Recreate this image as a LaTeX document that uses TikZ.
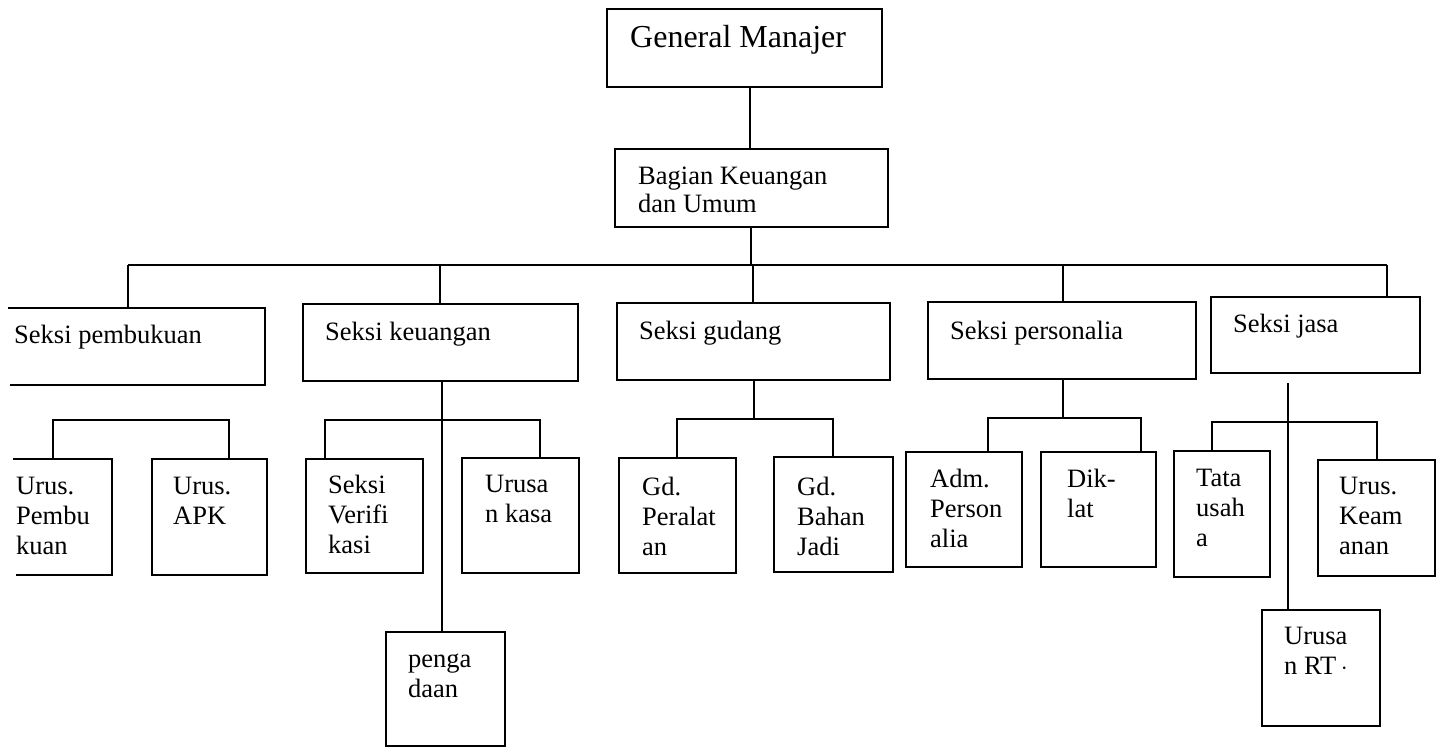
\documentclass[tikz,border=0pt]{standalone}
\usepackage{fontspec}
\setmainfont{Liberation Serif}
\begin{document}
\begin{tikzpicture}[x=1pt,y=-1pt,
  bx/.style={draw,line width=1.5pt,inner sep=0pt,outer sep=0pt,anchor=north west},
  openbx/.style={inner sep=0pt,outer sep=0pt,anchor=north west},
  lbl/.style={anchor=north west,align=left,inner sep=0pt,font=\fontsize{26.5}{30}\selectfont},
  conn/.style={line width=1.1pt},
  side/.style={line width=1.5pt}]
\useasboundingbox (0,0) rectangle (1436,747);
% level 1
\node[bx,minimum width=275pt,minimum height=78pt] (gm) at (607,9) {};
\node[lbl,font=\fontsize{32}{36}\selectfont] (tgm) at (630,25) {General Manajer};
\node[bx,minimum width=273pt,minimum height=78pt] (bag) at (615,149) {};
\node[lbl,font=\fontsize{26.5}{28}\selectfont] (tbag) at (638,167) {Bagian Keuangan\\dan Umum};
% level 2
\node[openbx,minimum width=257pt,minimum height=77pt] (pemb) at (8,308) {};
\draw[side] (pemb.north west) -- (pemb.north east) -- (pemb.south east) -- ([xshift=2pt]pemb.south west);
\node[lbl] (tpemb) at (14,325) {Seksi pembukuan};
\node[bx,minimum width=275pt,minimum height=77pt] (keu) at (303,304) {};
\node[lbl] (tkeu) at (325,322) {Seksi keuangan};
\node[bx,minimum width=273pt,minimum height=77pt] (gud) at (617,303) {};
\node[lbl] (tgud) at (639,321) {Seksi gudang};
\node[bx,minimum width=268pt,minimum height=77pt] (pers) at (928,302) {};
\node[lbl] (tpers) at (950,321) {Seksi personalia};
\node[bx,minimum width=209pt,minimum height=76pt] (jasa) at (1211,297) {};
\node[lbl] (tjasa) at (1233,314) {Seksi jasa};
% level 3
\node[openbx,minimum width=99pt,minimum height=116pt] (upemb) at (13,459) {};
\draw[side] (upemb.north west) -- (upemb.north east) -- (upemb.south east) -- ([xshift=3pt]upemb.south west);
\node[lbl] (tupemb) at (16,477) {Urus.\\Pembu\\kuan};
\node[bx,minimum width=115pt,minimum height=116pt] (apk) at (152,459) {};
\node[lbl] (tapk) at (173,477) {Urus.\\APK};
\node[bx,minimum width=117pt,minimum height=114pt] (ver) at (306,459) {};
\node[lbl] (tver) at (328,475) {Seksi\\Verifi\\kasi};
\node[bx,minimum width=117pt,minimum height=115pt] (kasa) at (462,458) {};
\node[lbl] (tkasa) at (485,475) {Urusa\\n kasa};
\node[bx,minimum width=119pt,minimum height=114pt] (peng) at (386,632) {};
\node[lbl] (tpeng) at (408,654) {penga\\daan};
\node[bx,minimum width=117pt,minimum height=115pt] (gdp) at (619,458) {};
\node[lbl] (tgdp) at (642,477) {Gd.\\Peralat\\an};
\node[bx,minimum width=119pt,minimum height=115pt] (gdb) at (774,457) {};
\node[lbl] (tgdb) at (797,477) {Gd.\\Bahan\\Jadi};
\node[bx,minimum width=116pt,minimum height=115pt] (adm) at (906,452) {};
\node[lbl] (tadm) at (930,469) {Adm.\\Person\\alia};
\node[bx,minimum width=115pt,minimum height=115pt] (dik) at (1041,452) {};
\node[lbl] (tdik) at (1067,469) {Dik-\\lat};
\node[bx,minimum width=96pt,minimum height=126pt] (tata) at (1174,451) {};
\node[lbl] (ttata) at (1196,469) {Tata\\usah\\a};
\node[bx,minimum width=117pt,minimum height=116pt] (kea) at (1318,460) {};
\node[lbl] (tkea) at (1339,477) {Urus.\\Keam\\anan};
\node[bx,minimum width=118pt,minimum height=116pt] (rt) at (1262,610) {};
\node[lbl] (trt) at (1284,627) {Urusa\\n RT\,$\cdot$};
% connectors level 1-2
\coordinate (gmx) at (750,87);
\draw[conn] (gmx) -- (gmx |- bag.north);
\coordinate (bus) at (751,265);
\draw[conn] (bus |- bag.south) -- (bus);
\coordinate (busL) at (128,265);
\coordinate (busR) at (1387,265);
\draw[conn] (busL) -- (busR);
\draw[conn] (busL) -- (busL |- pemb.north);
\coordinate (d2) at (440,265);
\draw[conn] (d2) -- (d2 |- keu.north);
\coordinate (d3) at (753,265);
\draw[conn] (d3) -- (d3 |- gud.north);
\coordinate (d4) at (1063,265);
\draw[conn] (d4) -- (d4 |- pers.north);
\draw[conn] (busR) -- (busR |- jasa.north);
% pembukuan children
\coordinate (b1l) at (53,420);
\coordinate (b1r) at (229,420);
\draw[conn] (b1l |- upemb.north) -- (b1l) -- (b1r) -- (b1r |- apk.north);
% keuangan children
\coordinate (k0) at (442,420);
\draw[conn] (k0 |- keu.south) -- (k0 |- peng.north);
\coordinate (b2l) at (325,420);
\coordinate (b2r) at (540,420);
\draw[conn] (b2l |- ver.north) -- (b2l) -- (b2r) -- (b2r |- kasa.north);
% gudang children
\coordinate (g0) at (754,419);
\draw[conn] (g0 |- gud.south) -- (g0);
\coordinate (b3l) at (677,419);
\coordinate (b3r) at (833,419);
\draw[conn] (b3l |- gdp.north) -- (b3l) -- (b3r) -- (b3r |- gdb.north);
% personalia children
\coordinate (p0) at (1063,418);
\draw[conn] (p0 |- pers.south) -- (p0);
\coordinate (b4l) at (988,418);
\coordinate (b4r) at (1141,418);
\draw[conn] (b4l |- adm.north) -- (b4l) -- (b4r) -- (b4r |- dik.north);
% jasa children
\coordinate (j0) at (1288,383);
\draw[conn] (j0) -- (j0 |- rt.north);
\coordinate (b5l) at (1212,422);
\coordinate (b5r) at (1377,422);
\draw[conn] (b5l |- tata.north) -- (b5l) -- (b5r) -- (b5r |- kea.north);
\end{tikzpicture}
\end{document}
